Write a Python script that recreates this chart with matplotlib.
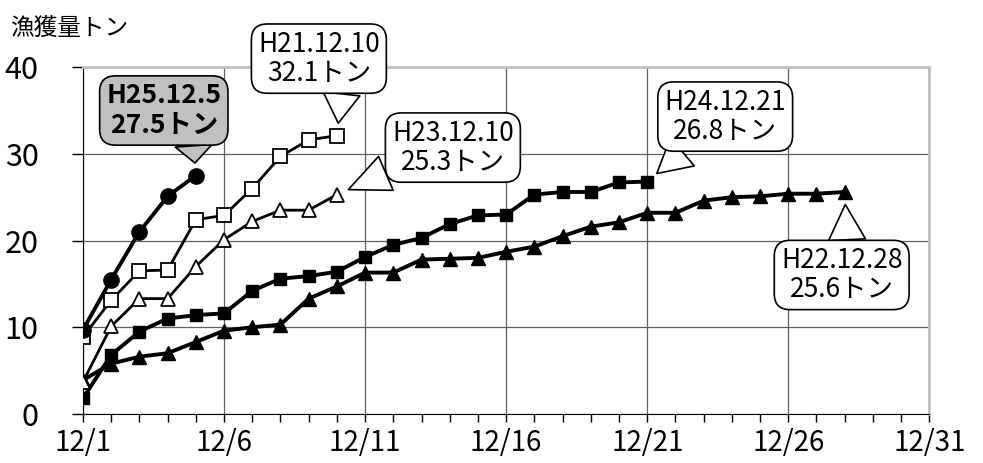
import matplotlib.pyplot as plt
from matplotlib.ticker import MultipleLocator

plt.rcParams['font.family'] = ['Noto Sans CJK JP', 'DejaVu Sans']

# catch (tons), cumulative, by day of December
days_h25 = [1, 2, 3, 4, 5]
h25 = [9.7, 15.5, 21.0, 25.1, 27.5]

days_h21 = [1, 2, 3, 4, 5, 6, 7, 8, 9, 10]
h21 = [8.9, 13.1, 16.5, 16.6, 22.4, 22.9, 26.0, 29.7, 31.6, 32.1]

days_h23 = [1, 2, 3, 4, 5, 6, 7, 8, 9, 10]
h23 = [3.7, 10.1, 13.3, 13.3, 17.0, 20.1, 22.2, 23.5, 23.5, 25.3]

days_h24 = list(range(1, 22))
h24 = [1.8, 6.8, 9.5, 11.0, 11.4, 11.6, 14.2, 15.6, 15.9, 16.4, 18.1,
       19.5, 20.3, 21.9, 22.9, 23.0, 25.3, 25.6, 25.6, 26.7, 26.8]

days_h22 = list(range(1, 29))
h22 = [3.9, 5.8, 6.6, 7.0, 8.3, 9.6, 10.0, 10.3, 13.3, 14.7, 16.3, 16.3,
       17.8, 17.9, 18.0, 18.7, 19.3, 20.5, 21.6, 22.1, 23.2, 23.2,
       24.6, 25.0, 25.1, 25.4, 25.4, 25.6]

xticks = [1, 6, 11, 16, 21, 26, 31]
xticklabels = ['12/1', '12/6', '12/11', '12/16', '12/21', '12/26', '12/31']

fig = plt.figure(figsize=(9.83, 4.63), dpi=100)
ax = fig.add_axes([0.0844, 0.106, 0.861, 0.749])

ax.plot(days_h22, h22, color='black', lw=2.8, marker='^', ms=10, mfc='black', zorder=3)
ax.plot(days_h24, h24, color='black', lw=2.8, marker='s', ms=9, mfc='black', zorder=3)
ax.plot(days_h23, h23, color='black', lw=2.0, marker='^', ms=10, mfc='white', mec='black', mew=1.3, zorder=4)
ax.plot(days_h21, h21, color='black', lw=2.0, marker='s', ms=10, mfc='white', mec='black', mew=1.3, zorder=4)
ax.plot(days_h25, h25, color='black', lw=2.8, marker='o', ms=11, mfc='black', zorder=5)

ax.set_xlim(1, 31)
ax.set_ylim(0, 40)
ax.set_xticks(xticks)
ax.set_xticklabels(xticklabels)
ax.xaxis.set_minor_locator(MultipleLocator(1))
ax.set_yticks([0, 10, 20, 30, 40])
ax.tick_params(axis='y', labelsize=22, direction='out', width=1, length=8, pad=24)
ax.tick_params(axis='x', labelsize=20, direction='out', width=1, length=6, pad=4)
ax.tick_params(axis='x', which='minor', direction='out', length=6, width=1)
ax.grid(True, color='#606060', lw=0.9)
ax.set_axisbelow(True)
for s in ['top', 'right']:
    ax.spines[s].set_color('#c0c0c0')
    ax.spines[s].set_linewidth(2)

fig.text(10 / 983, 1 - 28 / 463, '漁獲量トン', fontsize=17, va='center', ha='left')

def callout(x, y, text, dx, dy, fc='white', bold=False, relpos=(0.5, 0.5), shrink=9):
    ax.annotate(text, xy=(x, y), xytext=(dx, dy), textcoords='offset pixels',
                ha='center', va='center', fontsize=19, linespacing=1.1,
                fontweight='bold' if bold else 'normal',
                bbox=dict(boxstyle='round,pad=0.25,rounding_size=0.6', fc=fc, ec='black', lw=1.2),
                arrowprops=dict(arrowstyle='wedge,tail_width=1.4', fc=fc, ec='black', lw=1.2,
                                relpos=relpos, shrinkA=0, shrinkB=shrink),
                zorder=10, annotation_clip=False)

callout(days_h25[-1], h25[-1], 'H25.12.5\n27.5トン', -32, 65, fc='#c0c0c0', bold=True, relpos=(0.75, 0.15))
callout(days_h21[-1], h21[-1], 'H21.12.10\n32.1トン', -18, 77, relpos=(0.7, 0.15))
callout(days_h23[-1], h23[-1], 'H23.12.10\n25.3トン', 116, 47, relpos=(0.12, 0.2))
callout(days_h24[-1], h24[-1], 'H24.12.21\n26.8トン', 78, 65, relpos=(0.3, 0.15))
callout(days_h22[-1], h22[-1], 'H22.12.28\n25.6トン', -3, -83, relpos=(0.55, 0.85))

fig.savefig('out.png', dpi=100)
